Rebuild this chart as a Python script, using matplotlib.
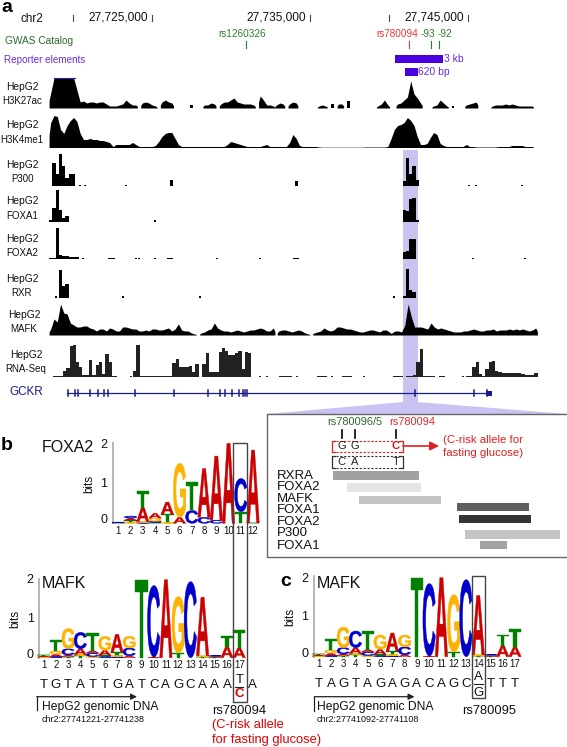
import matplotlib
matplotlib.use('Agg')
import matplotlib.pyplot as plt
from matplotlib.font_manager import FontProperties
from matplotlib.patches import PathPatch, Rectangle, Polygon
from matplotlib.textpath import TextPath
from matplotlib.transforms import Affine2D

plt.rcParams['font.family'] = ['Liberation Sans', 'DejaVu Sans']

# genome ruler (kb) and SNPs
RULER_TICKS_KB = [27720, 27725, 27735, 27740, 27745]
RULER_LABELS = ['27,725,000', '27,735,000', '27,745,000']
RULER_LABEL_KB = [27725, 27735, 27745]
GWAS_KB = [27730.97, 27741.3, 27742.66, 27743.17]
GWAS_NAMES = ['rs1260326', 'rs780094', '-93', '-92']
REPORTER_KB = [(27740.4, 27743.45), (27741.0, 27741.85)]
REPORTER_NAMES = ['3 kb', '620 bp']

# signal tracks: (first bin, heights per bin)
H3K27AC = [(15, [15, 30, 30, 30, 30, 30, 30, 30, 18, 6, 7, 5, 6, 6, 5, 6, 6, 4, 2, 2, 2, 3, 4, 8, 5, 3, 3]),
           (43, [5, 6, 5, 3, 2]), (49, [6, 8, 6, 5]), (58, [3]), (62, [3, 3, 5, 4]),
           (67, [4, 6, 6, 8, 10, 6, 5, 4, 4, 4, 3]), (79, [12, 8, 3, 3, 2]), (84, [3, 5, 4]),
           (88, [4, 6, 5]), (97, [2, 3, 2]), (101, [4]), (103, [4, 4]), (106, [7]),
           (115, [2, 4, 8, 3]), (121, [4, 5, 8, 11, 27, 14, 10, 5]), (132, [2, 3, 8, 5, 2]),
           (138, [2]), (142, [3, 4, 5, 6]), (150, [2, 3, 3, 3, 4, 3, 4, 3, 2, 2, 2, 2, 2])]
H3K4ME1 = [(15, [25, 32, 31, 18, 14, 22, 27, 30, 26, 14, 8, 8, 9, 8, 8, 7, 7, 6, 5, 1, 3, 3, 3, 3, 3, 5, 3,
                 1, 1, 1, 1, 1, 2, 6, 11, 14, 15, 15, 9, 3, 1, 1, 1, 1, 1, 1, 1, 1, 1, 1, 1, 1, 1, 1, 3, 6,
                 5, 4, 3, 2, 1, 1, 1, 1, 1, 2, 3, 1, 1, 1, 1, 1, 1, 5, 13, 9, 2, 1, 1, 1, 1, 1, 0.5, 0.3,
                 0.3, 0.3, 0.3, 0.3, 0.3, 0.3, 0.3, 0.3, 0.3, 0.3, 0.3, 0.3, 0.5, 0.5, 0.5, 0.5, 0.5, 0.5,
                 0.5, 1, 9, 18, 22, 23, 25, 30, 27, 22, 11, 3, 3, 4, 10, 15, 13, 4, 2, 1, 1, 1, 1, 1, 1, 3,
                 1, 1, 0.5, 0.5, 0.5, 0.5, 0.5, 0.5, 0.5, 1, 1, 1, 1, 2, 2, 2, 2, 1, 1, 1])]
P300 = [(16, [23, 12, 32, 20, 8, 12, 12]), (24, [1.5]), (25.4, [1.5]), (38, [1.5]), (52, [6]),
        (90, [5]), (123, [5, 28, 12, 20, 6]), (142.8, [1.5]), (145, [1.5]), (159, [1.5])]
FOXA1 = [(15, [2, 14, 32, 12, 4, 6]), (46.9, [2]), (123, [12, 11, 23, 24, 2])]
FOXA2 = [(15, [1, 1, 31, 4, 3, 3, 2, 2, 2]), (25, [1.5]), (33, [1.5, 1]), (41, [1.5]), (42, [1.5]), (47, [1.5]),
         (51, [1.5, 1.5]), (65.7, [1.5]), (78.8, [1.5]), (89.5, [1.5, 1.5]), (123, [7, 8, 20, 20]),
         (144, [1.5]), (160, [1.5])]
RXR = [(16.5, [2]), (18, [28, 12, 14]), (37, [2]), (60.5, [2]), (120, [2]), (123, [2, 29, 8, 6])]
MAFK = [(15, [6, 16, 13, 31, 22, 21, 12, 10, 8, 8, 9, 9, 7, 6, 4, 6, 6, 4, 7, 6, 4, 4, 8, 8, 7, 6, 6, 4, 4, 5,
              4, 6, 6, 5, 5, 6, 7, 4, 6, 11, 5, 4, 4, 2, 1]),
        (61, [2, 3, 5, 6, 12, 7, 5, 4, 4, 3, 4, 5, 4, 3, 4, 5, 5, 6, 7, 6, 4, 4, 7]),
        (84.7, [4, 5, 5, 4, 3, 4, 5, 4, 2, 1]),
        (95.5, [2, 3, 4, 7, 5, 4, 5, 8, 8, 7, 6, 6, 5, 4, 3, 3, 4, 5, 5, 4, 3, 5, 5, 3]),
        (119.2, [2, 4, 4, 3, 10, 31, 18, 8, 8, 8, 7, 6, 12, 8, 6, 7, 6, 5, 4, 3, 3, 3, 4, 4, 5, 6, 5, 4, 4, 5, 5,
                 6, 4, 5, 5, 5, 6, 5, 6, 5, 6, 5, 4, 5, 7])]
RNA_SEQ = [(16.3, [1, 1, 1, 6, 9, 31]), (22.2, [32, 15, 10, 2, 2, 17, 2, 12, 15, 3, 23, 15, 1]), (35, [1]),
           (39.5, [1]), (40.7, [6, 32, 1, 1, 1, 1, 1, 1, 1, 1, 1, 1, 14, 18, 10, 10, 10, 11, 5, 13]),
           (61.8, [13, 24, 5, 5, 5, 25, 29, 26, 22, 22, 24, 26, 8, 25, 24]), (79, [1]), (81.2, [1]),
           (85.3, [1, 1, 1, 1]), (90.2, [1]), (96.8, [1, 1, 1]), (100.8, [1]), (104.5, [1, 1, 1]), (110.8, [1]),
           (120, [1, 1, 1]), (124.2, [1, 1, 2, 15, 28, 1, 1]), (131, [1, 1]), (134, [1, 1]), (141, [1]),
           (142.3, [1, 1, 10, 15, 3, 1, 8, 15, 16, 6, 5, 4, 4, 4, 4, 4, 4, 3, 2, 2, 2, 4])]
TRACKS = [H3K27AC, H3K4ME1, P300, FOXA1, FOXA2, RXR, MAFK, RNA_SEQ]
TRACK_NAMES = ['H3K27ac', 'H3K4me1', 'P300', 'FOXA1', 'FOXA2', 'RXR', 'MAFK', 'RNA-Seq']
SMOOTH_TRACKS = ['H3K27ac', 'H3K4me1', 'MAFK']

GCKR_EXONS = [20.9, 22.8, 23.9, 27.6, 29.8, 31.9, 33, 41.4, 53.1, 63.7, 67.2, 68.7, 70.9, 73.1, 74.2, 75, 75.6,
              126.9, 144.7, 148.7]

# inset: peak names and spans
PEAK_NAMES = ['RXRA', 'FOXA2', 'MAFK', 'FOXA1', 'FOXA2', 'P300', 'FOXA1']
PEAK_START = [332.7, 346.7, 359.3, 457, 459.3, 465, 480.3]
PEAK_END = [419.3, 421.3, 441, 529, 531, 560, 507.3]

# motif logos: per position, bottom to top, (base, bits)
FOXA2_LOGO = [[('T', .01), ('A', .01), ('C', .01)],
              [('G', .03), ('T', .04), ('A', .06), ('C', .05)],
              [('C', .02), ('G', .02), ('A', .35), ('T', .41)],
              [('T', .02), ('C', .03), ('G', .08), ('A', .12)],
              [('G', .03), ('T', .2), ('A', .3)],
              [('A', .15), ('G', 1.35)],
              [('C', .32), ('T', .72)],
              [('C', .15), ('A', 1.22)],
              [('C', .08), ('A', 1.6)],
              [('A', 2.0)],
              [('T', .29), ('C', .83)],
              [('T', .01), ('A', 1.82)]]
MAFK_LOGO = [[('C', .01), ('G', .01), ('A', .02), ('T', .02)],
             [('C', .03), ('A', .06), ('G', .08), ('T', .28)],
             [('T', .03), ('A', .04), ('C', .16), ('G', .52)],
             [('T', .06), ('G', .02), ('A', .15), ('C', .42)],
             [('G', .03), ('C', .09), ('A', .06), ('T', .46)],
             [('C', .03), ('T', .03), ('A', .13), ('G', .36)],
             [('C', .02), ('G', .04), ('T', .08), ('A', .46)],
             [('A', .05), ('C', .2), ('G', .3)],
             [('T', 2.0)],
             [('A', .02), ('C', 1.83)],
             [('A', 2.0)],
             [('T', .12), ('G', 1.45)],
             [('C', 1.95)],
             [('T', .02), ('G', .03), ('A', 1.5)],
             [('T', .01), ('A', .02), ('G', .01), ('C', .01)],
             [('A', .28), ('T', .28)],
             [('A', .25), ('T', .45)]]
SEQ_B = list('TGTATTGATCAGCAAA')
SEQ_C = list('TAGTAGAGACAGC')
SEQ_C_END = list('TTT')

BASE_COLORS = {'A': '#cc0000', 'C': '#0000cc', 'G': '#ffb300', 'T': '#008000'}

fig = plt.figure(figsize=(5.67, 7.47), dpi=100)
ax = fig.add_axes([0, 0, 1, 1])
ax.set_xlim(0, 567)
ax.set_ylim(747, 0)
ax.axis('off')

BIN_W = 3.2727


def kb_x(kb):
    return 151.6 + (kb - 27725) * 15.82


def txt(x, y, s, size=8.6, color='#111111', ha='center', **kw):
    ax.text(x, y, s, fontsize=size, color=color, ha=ha, va='center', **kw)


def draw_track(segments, base, color='black', smooth=False):
    for start, vals in segments:
        xs, ys = [], []
        if smooth and len(vals) > 1:
            xs.append(start * BIN_W)
            ys.append(base - vals[0] * 0.5)
            for i, v in enumerate(vals):
                xs.append((start + i + 0.5) * BIN_W)
                ys.append(base - v)
            xs.append((start + len(vals)) * BIN_W)
            ys.append(base - vals[-1] * 0.5)
        elif len(vals) == 1 and vals[0] <= 2:
            # isolated dots are narrower than one bin
            xs = [(start + 0.2) * BIN_W, (start + 0.8) * BIN_W]
            ys = [base - vals[0]] * 2
        else:
            for i, v in enumerate(vals):
                xs += [(start + i) * BIN_W, (start + i + 1) * BIN_W]
                ys += [base - v, base - v]
        ax.fill_between(xs, ys, base, color=color, linewidth=0, zorder=3)


def draw_letter(letter, x, bottom, w, h):
    tp = TextPath((0, 0), letter, size=10, prop=FontProperties(family='Liberation Sans', weight='bold'))
    bb = tp.get_extents()
    tr = Affine2D().translate(-bb.x0, -bb.y0).scale(w / bb.width, -h / bb.height).translate(x, bottom)
    col = BASE_COLORS[letter]
    ax.add_patch(PathPatch(tr.transform_path(tp), facecolor=col, edgecolor=col, lw=0.3, zorder=4))


def draw_logo(logo, x1, dx, base, px_bit):
    for i, stack in enumerate(logo):
        y = base
        for letter, bits in stack:
            h = bits * px_bit
            draw_letter(letter, x1 + i * dx - dx / 2 - 0.1, y, dx + 0.2, h)
            y -= h
        txt(x1 + i * dx, base + 7.5, str(i + 1), size=7)


def logo_axis(x, top, bottom, y2, y1, y0, bits_x):
    ax.plot([x, x], [top, bottom], color='#aaaaaa', lw=1.2, zorder=2)
    for lab, y in zip('210', [y2, y1, y0]):
        txt(x - 5.5, y, lab, size=9, ha='right')
    txt(bits_x, y1, 'bits', size=8.4, rotation=90)


# --- panel a ---
txt(1, 7, 'a', size=14, ha='left', fontweight='bold', color='black')
txt(32, 18.5, 'chr2', size=8.4)
for kb in RULER_TICKS_KB:
    ax.plot([kb_x(kb)] * 2, [14.5, 21], color='#444444', lw=0.8)
for kb, lab in zip(RULER_LABEL_KB, RULER_LABELS):
    txt(kb_x(kb) - 4, 17.5, lab, size=8.6, ha='right')

txt(5, 41, 'GWAS Catalog', size=7.3, color='#2e6b2e', ha='left')
txt(4.5, 60, 'Reporter elements', size=7.1, color='#6a2be2', ha='left')
label_x = [242, 397, 427.7, 445]
for kb, name, lx in zip(GWAS_KB, GWAS_NAMES, label_x):
    col = '#e8383a' if name == 'rs780094' else '#2e7d2e'
    ax.plot([kb_x(kb)] * 2, [41, 48], color=col, lw=0.8)
    txt(lx, 34, name, size=7.2, color=col)
for (k0, k1), name, y0, y1, lx in zip(REPORTER_KB, REPORTER_NAMES, [55, 67.7], [63, 76], [444.5, 418.5]):
    ax.add_patch(Rectangle((kb_x(k0), y0), kb_x(k1) - kb_x(k0), y1 - y0, color='#4a00e0', lw=0))
    txt(lx, (y0 + y1) / 2, name, size=7.4, color='#6a2be2', ha='left')

# highlight and fan
ax.add_patch(Rectangle((403, 150), 14.5, 254, color='#c9c3f2', lw=0, zorder=1))
ax.add_patch(Polygon([(403, 402), (267, 414), (567, 414), (417.5, 402)], closed=True, color='#c9c3f2', lw=0, zorder=1))

bases = [108, 147.5, 186, 222, 259, 297.5, 335, 377]
label_y = [(87, 101), (125, 140), (165, 179), (201, 216), (239, 253), (279, 293), (315, 329), (355, 369)]
label_xs = [22, 22, 22, 22, 22, 22, 24, 26]
for seg, name, base, (y1, y2), lx in zip(TRACKS, TRACK_NAMES, bases, label_y, label_xs):
    draw_track(seg, base, color='#222222' if name == 'RNA-Seq' else 'black', smooth=name in SMOOTH_TRACKS)
    txt(lx, y1, 'HepG2', size=7.4)
    txt(lx, y2, name, size=7.0)
ax.plot([53.5, 74.5], [78.2, 78.2], color='#2222aa', lw=0.8, zorder=4)

# gene
txt(26.5, 392, 'GCKR', size=8.4, color='#1a1a8c')
ax.plot([67, 489], [393, 393], color='#1a1a8c', lw=0.9, zorder=3)
for e in GCKR_EXONS:
    ax.plot([e * BIN_W] * 2, [390, 396], color='#1a1a8c', lw=1.1, zorder=3)
ax.add_patch(Rectangle((486, 390.5), 5.5, 5, color='#1a1a8c', lw=0, zorder=3))

# --- inset ---
ax.plot([567, 267, 267, 567], [414, 414, 556.7, 556.7], color='#666666', lw=1.0, zorder=2)
txt(355, 422, 'rs780096/5', size=7.9, color='#2e6b2e')
txt(412, 422, 'rs780094', size=7.9, color='#e8282a')
for x in [341.7, 354.7, 396]:
    ax.plot([x, x], [430, 438], color='black', lw=1.2)
for x, top, bot in zip([341.7, 354.7, 396], 'GGC', 'CAT'):
    txt(x, 446, top, size=8, color='#e01010' if top == 'C' else '#222222', fontweight='bold' if top == 'C' else 'normal')
    txt(x, 462, bot, size=8, color='#222222')
for col, y0, y1 in [('#e02020', 440.7, 451.7), ('#333333', 456, 467.7)]:
    ax.plot([332, 403], [y0, y0], color=col, lw=0.8, ls=(0, (2, 1.5)))
    ax.plot([332, 403], [y1, y1], color=col, lw=0.8, ls=(0, (2, 1.5)))
    ax.plot([335, 332, 332, 335], [y0, y0, y1, y1], color=col, lw=0.9)
    ax.plot([400, 403, 403, 400], [y0, y0, y1, y1], color=col, lw=0.9)
ax.annotate('', xy=(439, 446), xytext=(403, 446), arrowprops=dict(arrowstyle='-|>', color='#e02020', lw=1.2, mutation_scale=13, shrinkA=0, shrinkB=0))
txt(443, 440, '(C-risk allele for', size=8.2, color='#e02020', ha='left')
txt(443, 452.7, 'fasting glucose)', size=8.2, color='#e02020', ha='left')

peak_y = [(471.3, 480), (483.3, 491.7), (495.7, 504), (503, 511.3), (515, 523.3), (530.3, 538.7), (541, 549.3)]
peak_col = ['#a0a0a0', '#e4e4e4', '#c4c4c4', '#5f5f5f', '#333333', '#c4c4c4', '#a2a2a2']
label_ys = [476, 487, 499, 510, 521.7, 532.7, 546]
for name, s, e, (y0, y1), c, ly in zip(PEAK_NAMES, PEAK_START, PEAK_END, peak_y, peak_col, label_ys):
    ax.add_patch(Rectangle((s, y0), e - s, y1 - y0, color=c, lw=0))
    txt(277, ly, name, size=9.5, ha='left')

# --- panel b ---
txt(1, 445, 'b', size=14, ha='left', fontweight='bold', color='black')
txt(42, 448, 'FOXA2', size=11.5, ha='left')
logo_axis(112.7, 443, 523, 445, 484, 520, 89)
draw_logo(FOXA2_LOGO, 118.3, 12.25, 523.3, 40)
ax.add_patch(Rectangle((232.7, 443.3), 14, 258.4, fill=False, edgecolor='#444444', lw=1, zorder=5))

txt(42, 584, 'MAFK', size=11.5, ha='left')
logo_axis(39.3, 579, 658, 580, 619, 655, 15.7)
draw_logo(MAFK_LOGO, 43.7, 12.22, 657.7, 39)
for i, c in enumerate(SEQ_B):
    txt(43.7 + i * 12.22, 685, c, size=9.5)
txt(239.3, 680, 'T', size=9.5)
ax.plot([235.3, 243.3], [686.7, 686.7], color='#222222', lw=0.8)
txt(239.3, 694, 'C', size=9.5, color='#dd0000', fontweight='bold')
txt(252.3, 685, 'A', size=9.5)
ax.annotate('', xy=(137, 696.7), xytext=(36.7, 696.7), arrowprops=dict(arrowstyle='-|>', color='#222222', lw=0.9, mutation_scale=9, shrinkA=0, shrinkB=0))
ax.plot([36.7, 36.7], [696.7, 710], color='#222222', lw=0.9)
txt(41.7, 707, 'HepG2 genomic DNA', size=8.7, ha='left')
txt(41.7, 720, 'chr2:27741221-27741238', size=6.5, ha='left')
txt(212, 710.7, 'rs780094', size=9.3, ha='left')
txt(212, 725, '(C-risk allele', size=9.3, color='#dd0000', ha='left')
txt(212, 740, 'for fasting glucose)', size=9.3, color='#dd0000', ha='left')

# --- panel c ---
txt(280, 582, 'c', size=14, ha='left', fontweight='bold', color='black')
txt(317, 584, 'MAFK', size=11.5, ha='left')
logo_axis(314, 575.7, 657, 579, 617, 654, 290)
draw_logo(MAFK_LOGO, 318.7, 12.27, 656.7, 39.5)
for i, c in enumerate(SEQ_C):
    txt(318.7 + i * 12.27, 684, c, size=9.5)
txt(478.3, 676.7, 'A', size=9.5)
ax.plot([473.5, 483], [684, 684], color='#222222', lw=0.8)
txt(478.3, 692.7, 'G', size=9.5)
for i, c in enumerate(SEQ_C_END):
    txt(490.6 + i * 12.27, 684, c, size=9.5)
ax.add_patch(Rectangle((471.7, 575.7), 13.6, 122.6, fill=False, edgecolor='#444444', lw=1, zorder=5))
ax.annotate('', xy=(414.5, 696.7), xytext=(314.3, 696.7), arrowprops=dict(arrowstyle='-|>', color='#222222', lw=0.9, mutation_scale=9, shrinkA=0, shrinkB=0))
ax.plot([314.3, 314.3], [696.7, 711], color='#222222', lw=0.9)
txt(316.7, 707, 'HepG2 genomic DNA', size=8.7, ha='left')
txt(316.7, 720, 'chr2:27741092-27741108', size=6.5, ha='left')
txt(461.7, 710.7, 'rs780095', size=9.3, ha='left')

fig.savefig('out.png', dpi=100)
